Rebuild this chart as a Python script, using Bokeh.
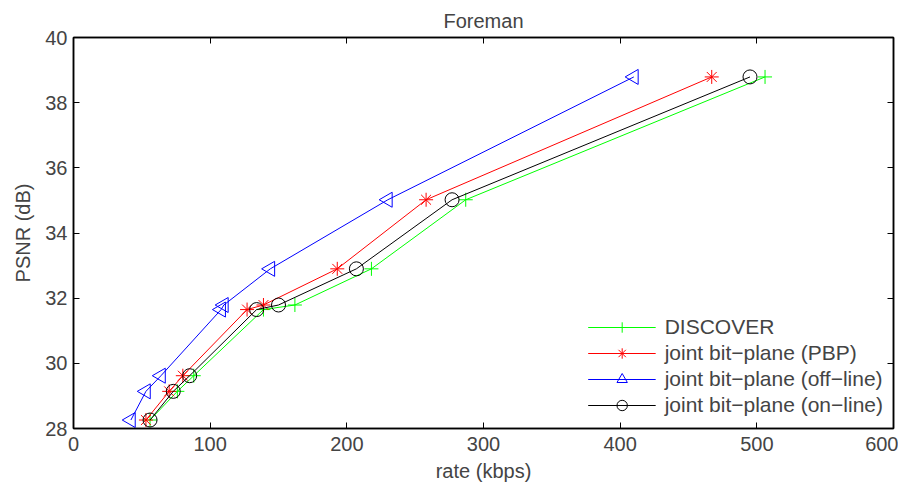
import numpy as np
from bokeh.plotting import figure
from bokeh.models import LinearAxis, Legend, LegendItem, FixedTicker
from bokeh.embed import file_html
from bokeh.resources import INLINE

psnr = [28.26, 29.14, 29.62, 31.65, 31.79, 32.90, 35.02, 38.79]
rate_discover = [56, 76, 88, 139, 162, 218, 287, 506]
rate_pbp = [53, 70, 80, 127, 139, 193, 258, 467]
rate_offline = [42, 53, 64, 108, 110, 144, 230, 410]
rate_online = [56, 73, 85, 134, 150, 207, 277, 495]
x_ticks = [0, 100, 200, 300, 400, 500, 600]
y_ticks = [28, 30, 32, 34, 36, 38, 40]

FONT = "Liberation Sans"
FS = "20px"

p = figure(width=898, height=484, output_backend="svg", toolbar_location=None,
           x_range=(0, 600), y_range=(28, 40), title="Foreman",
           min_border_left=73, min_border_right=5, min_border_top=37, min_border_bottom=54)
p.title.align = "center"
p.title.text_font = FONT
p.title.text_font_size = FS
p.title.text_font_style = "normal"
p.title.standoff = 12
p.xgrid.visible = False
p.ygrid.visible = False
p.outline_line_color = "black"
p.outline_line_width = 1.5

def style_axis(ax, labels=True):
    ax.major_tick_in = 6
    ax.major_tick_out = 0
    ax.minor_tick_line_color = None
    ax.axis_line_color = "black"
    ax.axis_line_width = 1.5
    ax.major_label_text_font = FONT
    ax.major_label_text_font_size = FS
    ax.axis_label_text_font = FONT
    ax.axis_label_text_font_size = FS
    ax.axis_label_text_font_style = "normal"
    if not labels:
        ax.major_label_text_color = None
        ax.major_label_text_font_size = "1px"

p.xaxis.ticker = FixedTicker(ticks=x_ticks)
p.yaxis.ticker = FixedTicker(ticks=y_ticks)
p.xaxis.axis_label = "rate (kbps)"
p.yaxis.axis_label = "PSNR (dB)"
style_axis(p.xaxis[0])
style_axis(p.yaxis[0])
p.xaxis.major_label_standoff = 8
p.yaxis.major_label_standoff = 6
p.xaxis.axis_label_standoff = 6
p.yaxis.axis_label_standoff = 8

top = LinearAxis(ticker=FixedTicker(ticks=x_ticks))
style_axis(top, labels=False)
p.add_layout(top, "above")
right = LinearAxis(ticker=FixedTicker(ticks=y_ticks))
style_axis(right, labels=False)
p.add_layout(right, "right")

items = []
l1 = p.line(rate_discover, psnr, color="#00ff00", line_width=1)
m1 = p.scatter(rate_discover, psnr, marker="cross", size=14, line_color="#00ff00", line_width=1)
items.append(LegendItem(label="DISCOVER", renderers=[l1, m1]))
l2 = p.line(rate_pbp, psnr, color="#ff0000", line_width=1)
m2 = p.scatter(rate_pbp, psnr, marker="asterisk", size=14, line_color="#ff0000", line_width=1)
items.append(LegendItem(label="joint bit\u2212plane (PBP)", renderers=[l2, m2]))
l3 = p.line(rate_offline, psnr, color="#0000ff", line_width=1)
m3 = p.scatter(rate_offline, psnr, marker="triangle", size=15, angle=np.pi / 2,
               line_color="#0000ff", fill_color=None, line_width=1)
items.append(LegendItem(label="joint bit\u2212plane (off\u2212line)", renderers=[l3, m3]))
l4 = p.line(rate_online, psnr, color="black", line_width=1)
m4 = p.scatter(rate_online, psnr, marker="circle", size=14, line_color="black",
               fill_color=None, line_width=1)
items.append(LegendItem(label="joint bit\u2212plane (on\u2212line)", renderers=[l4, m4]))

legend = Legend(items=items, location="bottom_right")
legend.border_line_color = None
legend.background_fill_alpha = 0
legend.label_text_font = FONT
legend.label_text_font_size = "21px"
legend.glyph_width = 68
legend.glyph_height = 26
legend.label_height = 22
legend.spacing = 0
legend.padding = 4
legend.margin = 10
legend.label_standoff = 9
p.add_layout(legend, "center")

open("out.html", "w").write(file_html(p, INLINE))
